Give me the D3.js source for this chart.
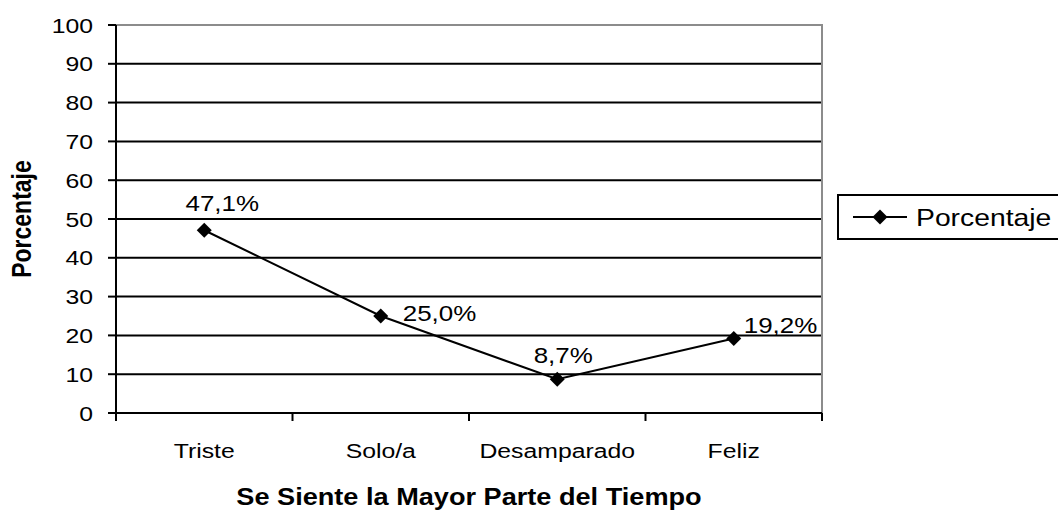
<!DOCTYPE html>
<html>
<head>
<meta charset="utf-8">
<script src="https://cdn.jsdelivr.net/npm/d3@7"></script>
<style>
  body { margin: 0; background: #fff; }
  text { font-family: "Liberation Sans", Arial, sans-serif; fill: #000; }
</style>
</head>
<body>
<div id="chart"></div>
<script>
// chart values
const categories = ['Triste', 'Solo/a', 'Desamparado', 'Feliz'];
const seriesName = 'Porcentaje';
const values = [47.1, 25.0, 8.7, 19.2];
const valueLabels = ['47,1%', '25,0%', '8,7%', '19,2%'];
const yTicks = [0, 10, 20, 30, 40, 50, 60, 70, 80, 90, 100];

// label placement relative to each point: [dx, dy, anchor]
const labelPlace = [[18, -19, 'middle'], [22, 5, 'start'], [6, -16, 'middle'], [10, -6, 'start']];

const W = 1058, H = 512;
const margin = { left: 116, right: 236, top: 25, bottom: 99 };
const stretch = 1.18; // the source image is wider than tall, glyphs look stretched

const svg = d3.select('#chart').append('svg')
  .attr('width', W)
  .attr('height', H);

const x = d3.scaleBand()
  .domain(categories)
  .range([margin.left, W - margin.right]);
const y = d3.scaleLinear()
  .domain([0, 100])
  .range([H - margin.bottom, margin.top]);

function label(g, tx, ty, str, size, anchor, bold) {
  return g.append('text')
    .attr('transform', `translate(${tx},${ty}) scale(${stretch},1)`)
    .attr('text-anchor', anchor)
    .attr('font-size', size)
    .attr('font-weight', bold ? 'bold' : 'normal')
    .text(str);
}

// gridlines
const grid = svg.append('g').attr('class', 'grid');
grid.selectAll('line')
  .data(yTicks.filter((d) => d > 0 && d < 100))
  .enter().append('line')
  .attr('x1', x.range()[0])
  .attr('x2', x.range()[1])
  .attr('y1', (d) => y(d))
  .attr('y2', (d) => y(d))
  .attr('stroke', '#000')
  .attr('stroke-width', 2);

// plot border top / right (gray)
svg.append('path')
  .attr('d', `M${x.range()[0]},${y(100)}H${x.range()[1]}V${y(0)}`)
  .attr('fill', 'none')
  .attr('stroke', '#8c8c8c')
  .attr('stroke-width', 2);

// y axis
const yAxis = svg.append('g').attr('class', 'y-axis');
yAxis.append('line')
  .attr('x1', margin.left).attr('x2', margin.left)
  .attr('y1', y(0)).attr('y2', y(100))
  .attr('stroke', '#000').attr('stroke-width', 2);
yAxis.selectAll('line.tick')
  .data(yTicks)
  .enter().append('line')
  .attr('class', 'tick')
  .attr('x1', margin.left - 8).attr('x2', margin.left)
  .attr('y1', (d) => y(d)).attr('y2', (d) => y(d))
  .attr('stroke', '#000').attr('stroke-width', 2);
yTicks.forEach((d) => {
  label(yAxis, 93, y(d) + 7.5, String(d), 21, 'end', false);
});

// x axis
const xAxis = svg.append('g').attr('class', 'x-axis');
xAxis.append('line')
  .attr('x1', x.range()[0]).attr('x2', x.range()[1])
  .attr('y1', y(0)).attr('y2', y(0))
  .attr('stroke', '#000').attr('stroke-width', 2);
const bounds = categories.map((c) => x(c)).concat([x.range()[1]]);
xAxis.selectAll('line.tick')
  .data(bounds)
  .enter().append('line')
  .attr('class', 'tick')
  .attr('x1', (d) => d).attr('x2', (d) => d)
  .attr('y1', y(0)).attr('y2', y(0) + 8)
  .attr('stroke', '#000').attr('stroke-width', 2);
categories.forEach((c) => {
  label(xAxis, x(c) + x.bandwidth() / 2, 458, c, 21, 'middle', false);
});

// axis titles
label(svg, (x.range()[0] + x.range()[1]) / 2, 505, 'Se Siente la Mayor Parte del Tiempo', 23, 'middle', true);
svg.append('text')
  .attr('transform', `translate(31,${(y(0) + y(100)) / 2}) rotate(-90) scale(1,${stretch})`)
  .attr('text-anchor', 'middle')
  .attr('font-size', 23)
  .attr('font-weight', 'bold')
  .text('Porcentaje');

// series
const cx = (i) => x(categories[i]) + x.bandwidth() / 2;
const line = d3.line()
  .x((d, i) => cx(i))
  .y((d) => y(d));
svg.append('path')
  .datum(values)
  .attr('d', line)
  .attr('fill', 'none')
  .attr('stroke', '#000')
  .attr('stroke-width', 2);

const diamond = d3.symbol().type(d3.symbolSquare).size(112);
svg.selectAll('path.marker')
  .data(values)
  .enter().append('path')
  .attr('class', 'marker')
  .attr('d', diamond)
  .attr('transform', (d, i) => `translate(${cx(i)},${y(d)}) rotate(45)`)
  .attr('fill', '#000');

values.forEach((d, i) => {
  const p = labelPlace[i];
  label(svg, cx(i) + p[0], y(d) + p[1], valueLabels[i], 22, p[2], false);
});

// legend
const legend = svg.append('g').attr('class', 'legend');
legend.append('rect')
  .attr('x', 838).attr('y', 195)
  .attr('width', 240).attr('height', 44)
  .attr('fill', '#fff')
  .attr('stroke', '#000')
  .attr('stroke-width', 2);
legend.append('line')
  .attr('x1', 853).attr('x2', 907)
  .attr('y1', 217).attr('y2', 217)
  .attr('stroke', '#000').attr('stroke-width', 2);
legend.append('path')
  .attr('d', diamond)
  .attr('transform', 'translate(880,217) rotate(45)')
  .attr('fill', '#000');
label(legend, 916, 225.5, seriesName, 24, 'start', false);
</script>
</body>
</html>
